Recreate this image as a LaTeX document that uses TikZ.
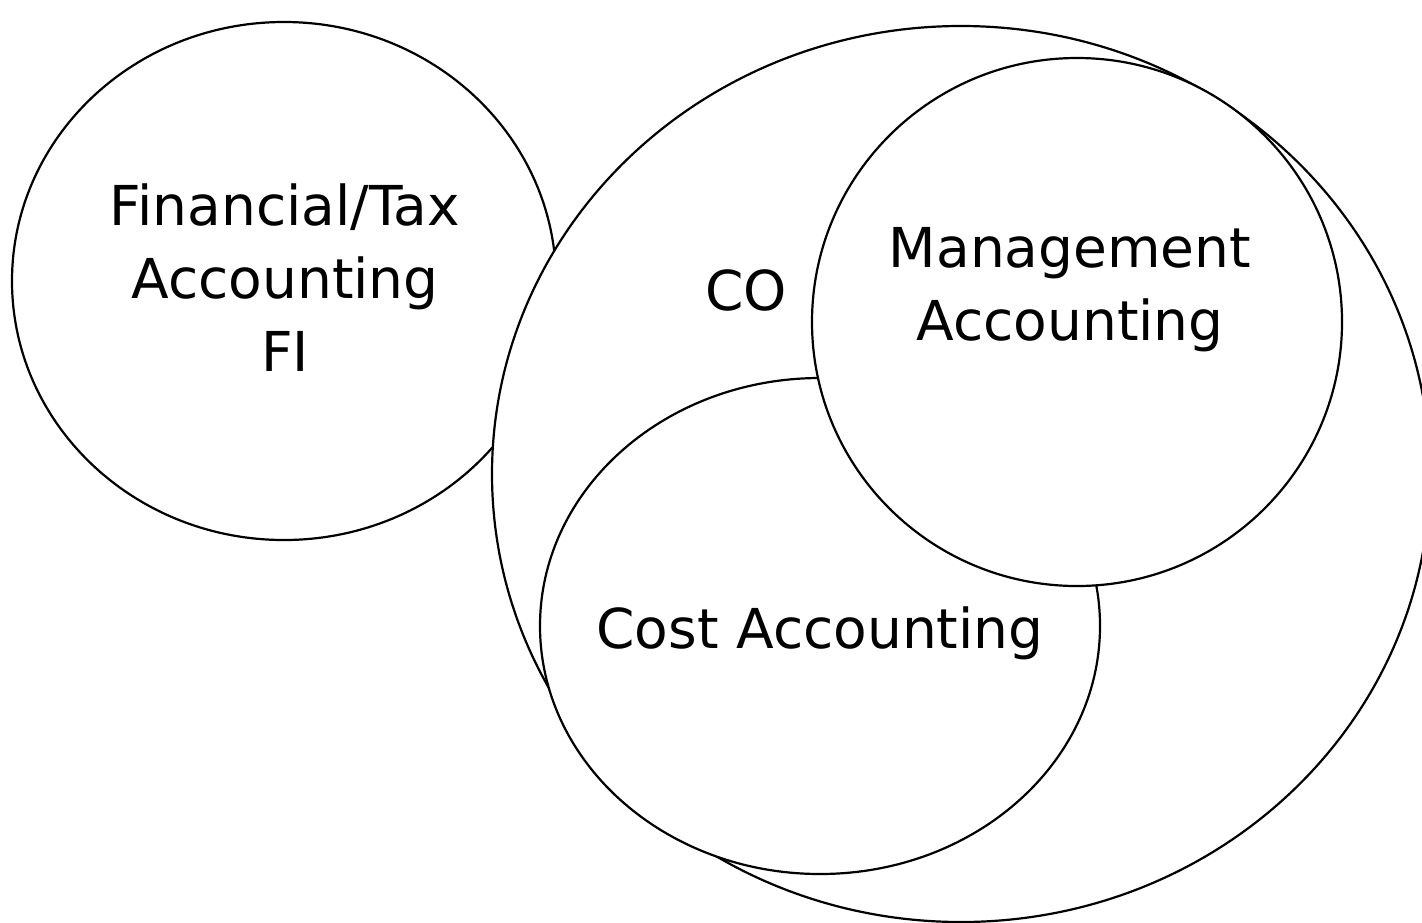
\documentclass[tikz,border=0pt]{standalone}
\usepackage{fontspec}
\setmainfont{DejaVu Sans}
\begin{document}
\begin{tikzpicture}[x=0.5pt, y=-0.5pt, font=\fontsize{27.5}{36.5}\selectfont]
        \useasboundingbox (0,0) rectangle (1422,922);
        % FI first, the CO parts lie on top of it
        \filldraw[fill=white, line width=1.1pt] (284,281) ellipse (272 and 259);
        \filldraw[fill=white, line width=1.1pt] (961,474) ellipse (469 and 448);
        \filldraw[fill=white, line width=1.1pt] (820,626) ellipse (280 and 248);
        \filldraw[fill=white, line width=1.1pt] (1077,322) ellipse (265 and 264);
        \node[align=center] (fi) at (285,278) {Financial/Tax\\Accounting\\FI};
        \node (co) at (746,290) {CO};
        \node[align=center] (mgmt) at (1070,290) {Management\\Accounting};
        \node (cost) at (820,633) {Cost Accounting};
\end{tikzpicture}
\end{document}
